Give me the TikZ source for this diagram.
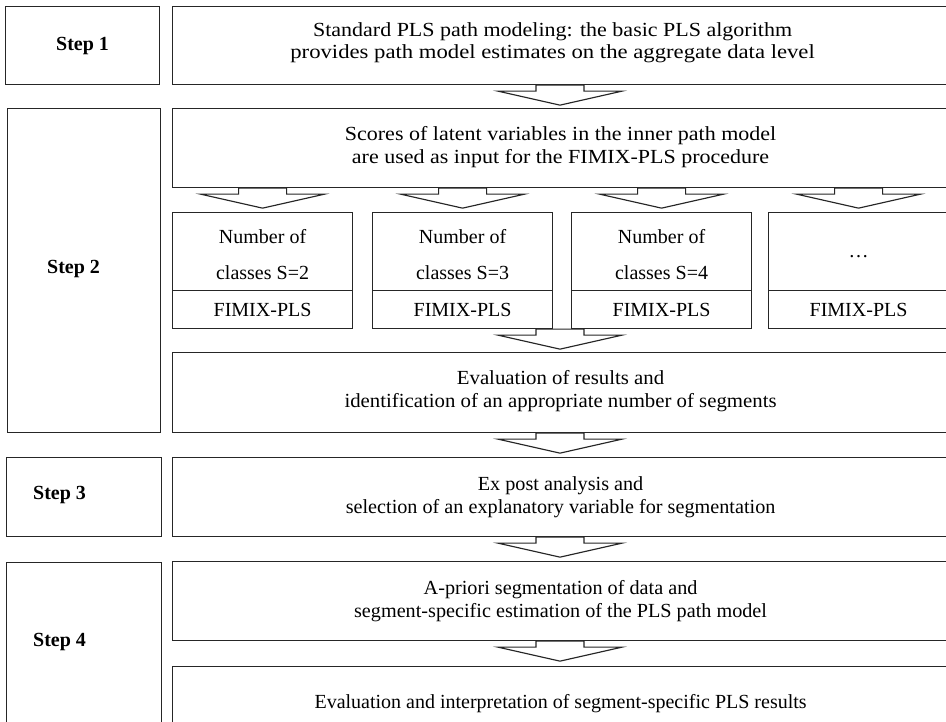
\documentclass[tikz,border=0pt]{standalone}
\usepackage{graphicx}
\usepackage{fontspec}
\setmainfont{Liberation Serif}
\newcommand\hsc[2]{\scalebox{#1}[1]{#2}}
\begin{document}
\begin{tikzpicture}[x=1pt,y=-1pt,
  box/.style={draw=black!85, line width=1.15pt, fill=white, inner sep=0pt, anchor=north west, align=center,
     font=\fontsize{20}{22.5}\selectfont},
  txt/.style={inner sep=0pt, align=center, font=\fontsize{20}{22.5}\selectfont},
  steplbl/.style={font=\fontsize{20}{22.5}\selectfont\bfseries, inner sep=0pt},
  arr/.style={draw=black!85, line width=1.15pt, fill=white, line join=miter},
  blockarr/.pic={\path[arr] (-24,0) -- (-24,6) -- (-62,6) -- (0,20) -- (62,6) -- (24,6) -- (24,0) -- cycle;}
]
\useasboundingbox (0,0) rectangle (946,722);
\clip (0,0) rectangle (946,722);
% step boxes
\node[box, minimum width=154pt, minimum height=78pt] (s1) at (5,6) {};
\node[box, minimum width=153pt, minimum height=324pt] (s2) at (7,108) {};
\node[box, minimum width=155pt, minimum height=79pt] (s3) at (6,457) {};
\node[box, minimum width=155pt, minimum height=200pt] (s4) at (6,562) {};
\node[steplbl] (l1) at (s1.center) {Step 1};
\node[steplbl, anchor=west] (l2) at (47,269) {Step 2};
\node[steplbl, anchor=west] (l3) at (33,495) {Step 3};
\node[steplbl, anchor=west] (l4) at (33,642) {Step 4};
% content boxes
\node[box, minimum width=776pt, minimum height=78pt] (r1) at (172,6) {};
\node[txt] (r1t) at ([yshift=3pt,xshift=-8pt]r1.center)
  {\hsc{1.1}{Standard PLS path modeling: the basic PLS algorithm}\\\hsc{1.135}{provides path model estimates on the aggregate data level}};
\node[box, minimum width=776pt, minimum height=79pt] (r2) at (172,108) {};
\node[txt] (r2t) at ([yshift=1pt]r2.center)
  {\hsc{1.1}{Scores of latent variables in the inner path model}\\\hsc{1.1}{are used as input for the FIMIX-PLS procedure}};
% class boxes
\node[box, minimum width=180pt, minimum height=78pt] (c1) at (172,212) {};
\node[box, minimum width=180pt, minimum height=38pt] (f1) at (172,290) {FIMIX-PLS};
\node[box, minimum width=180pt, minimum height=78pt] (c2) at (372,212) {};
\node[box, minimum width=180pt, minimum height=38pt] (f2) at (372,290) {FIMIX-PLS};
\node[box, minimum width=180pt, minimum height=78pt] (c3) at (571,212) {};
\node[box, minimum width=180pt, minimum height=38pt] (f3) at (571,290) {FIMIX-PLS};
\node[box, minimum width=180pt, minimum height=78pt] (c4) at (768,212) {};
\node[box, minimum width=180pt, minimum height=38pt] (f4) at (768,290) {FIMIX-PLS};
\node[txt] (c1t) at ([yshift=-3pt]c1.center) {Number of\\[13.5pt]classes S=2};
\node[txt] (c2t) at ([yshift=-3pt]c2.center) {Number of\\[13.5pt]classes S=3};
\node[txt] (c3t) at ([yshift=-3pt]c3.center) {Number of\\[13.5pt]classes S=4};
\node[txt] (c4t) at ([yshift=-5pt]c4.center) {\dots};
\node[box, minimum width=776pt, minimum height=80pt] (ev) at (172,352) {};
\node[txt] (evt) at ([yshift=1.5pt]ev.center)
  {\hsc{1.04}{Evaluation of results and}\\\hsc{1.04}{identification of an appropriate number of segments}};
\node[box, minimum width=776pt, minimum height=79pt] (r3) at (172,457) {};
\node[txt] (r3t) at (r3.center)
  {\hsc{1.01}{Ex post analysis and}\\\hsc{1.01}{selection of an explanatory variable for segmentation}};
\node[box, minimum width=776pt, minimum height=79pt] (r4) at (172,561) {};
\node[txt] (r4t) at (r4.center)
  {\hsc{1.01}{A-priori segmentation of data and}\\\hsc{1.01}{segment-specific estimation of the PLS path model}};
\node[box, minimum width=776pt, minimum height=74pt] (r5) at (172,666)
  {Evaluation and interpretation of segment-specific PLS results};
% block arrows
\pic at (r1.south -| 560,0) {blockarr};
\pic at (r2.south -| c1.south) {blockarr};
\pic at (r2.south -| c2.south) {blockarr};
\pic at (r2.south -| c3.south) {blockarr};
\pic at (r2.south -| c4.south) {blockarr};
\pic at (f1.south -| 560,0) {blockarr};
\pic at (ev.south -| 560,0) {blockarr};
\pic at (r3.south -| 560,0) {blockarr};
\pic at (r4.south -| 560,0) {blockarr};
\end{tikzpicture}
\end{document}
